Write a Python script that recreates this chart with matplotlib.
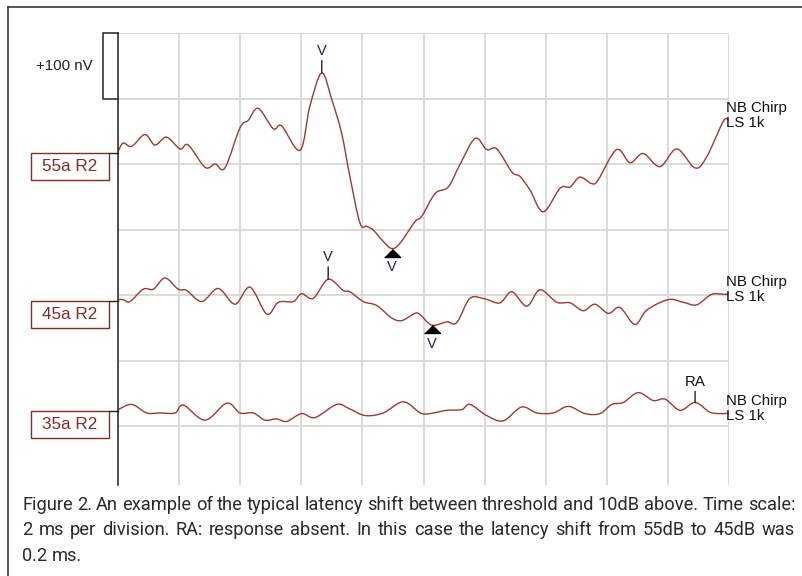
import matplotlib
matplotlib.use('Agg')
import numpy as np
import matplotlib.pyplot as plt
from matplotlib.lines import Line2D
from matplotlib.patches import Rectangle, PathPatch
from matplotlib.path import Path
from matplotlib.transforms import IdentityTransform

# ABR traces: time in ms (2 ms / division), amplitude in nV relative to baseline
t55 = [0.0, 0.17, 0.45, 0.88, 1.21, 1.59, 2.03, 2.30, 2.85, 3.18, 3.50, 3.99, 4.27,
       4.59, 5.08, 5.36, 5.96, 6.28, 6.67, 7.00, 7.32, 7.59, 7.92, 8.14, 8.36, 8.68,
       8.96, 9.23, 9.72, 9.94, 10.38, 10.81, 11.19, 11.69, 12.07, 12.40, 12.89, 13.16,
       13.49, 13.92, 14.47, 14.80, 15.12, 15.51, 15.72, 16.32, 16.76, 17.19, 17.74,
       18.29, 18.89, 19.27, 19.81, 19.98]
v55 = [2, 15, 10, 28, 12, 24, 6, 12, -22, -17, -23, 38, 50,
       68, 37, 41, 4, 71, 122, 81, 30, -36, -107, -112, -118, -135,
       -146, -138, -105, -97, -62, -52, -18, 22, 5, 6, -29, -36,
       -57, -90, -54, -52, -37, -47, -41, 5, -15, -1, -21,
       6, -23, -6, 48, 50]

t45 = [0.0, 0.17, 0.39, 0.83, 1.16, 1.54, 1.97, 2.25, 2.74, 3.28, 3.83, 4.32, 4.87,
       5.25, 5.74, 6.01, 6.39, 6.88, 7.37, 7.59, 8.03, 8.47, 8.96, 9.29, 9.72, 9.89,
       10.27, 10.76, 11.09, 11.52, 12.01, 12.50, 12.89, 13.38, 13.81, 14.36, 14.80,
       15.23, 15.61, 16.05, 16.43, 16.92, 17.31, 18.01, 18.50, 18.94, 19.43, 19.87, 20.0]
v45 = [2, 2, -1, 18, 18, 35, 18, 16, -1, 19, -5, 21, -20,
       -2, -1, 11, 4, 33, 16, 14, -1, -7, -26, -30, -19, -21,
       -37, -32, -33, 4, 3, -3, 14, -8, 17, -2, -3,
       -15, -5, -19, -10, -36, -14, 2, -2, -6, 10, 10, 11]

t35 = [0.0, 0.45, 0.94, 1.37, 1.87, 2.14, 2.85, 3.56, 3.99, 4.43, 4.81, 5.19, 5.52,
       6.01, 6.45, 7.16, 7.59, 8.09, 8.68, 9.34, 9.89, 10.21, 10.76, 11.25, 11.52,
       12.07, 12.61, 13.21, 13.71, 14.25, 14.74, 15.29, 15.78, 16.16, 16.54, 17.03,
       17.52, 17.91, 18.40, 18.89, 19.38, 19.81, 20.0]
v35 = [2, 10, -3, -3, -3, 9, -14, 12, -3, -3, -14, -12, -16,
       -4, -10, 10, 3, -7, -3, 14, -3, -4, 1, 2, 10,
       -7, -15, 6, -3, -3, 7, -4, -4, 10, 13, 28,
       16, 18, 1, 13, -2, -4, -3]

traces = [(t55, v55), (t45, v45), (t35, v35)]
trace_labels = ['55a R2', '45a R2', '35a R2']
stim_label = 'NB Chirp\nLS 1k'
offsets = [417, 191, 23]  # vertical placement of each trace (nV)

# wave V peak / trough latencies (ms) and the response-absent mark
peak_v = [6.67, 6.88]
trough_v = [8.96, 10.27]
ra_mark = 18.89

caption = ["Figure 2. An example of the typical latency shift between threshold and 10dB above. Time scale:",
           "2 ms per division. RA: response absent. In this case the latency shift from 55dB to 45dB was",
           "0.2 ms."]

trace_col = '#9a3b30'
label_col = '#7e2f24'
txt_font = 'Liberation Sans'

fig = plt.figure(figsize=(8.02, 5.76), dpi=100)
W, H = 802, 576
ax = fig.add_axes([118 / W, 1 - 485 / H, (729 - 118) / W, (485 - 33) / H])
ax.set_xlim(0, 20)
ax.set_ylim(-90, 600)
ax.set_xticks(range(0, 21, 2))
ax.set_yticks(range(0, 601, 100))
ax.tick_params(length=0, labelbottom=False, labelleft=False)
ax.grid(True, color='#dadada', lw=1.4)
for s in ['top', 'right', 'bottom']:
    ax.spines[s].set_visible(False)
ax.spines['left'].set_color('#222222')
ax.spines['left'].set_linewidth(1.1)
ax.set_axisbelow(True)

# outer frame
fig.add_artist(Line2D([8 / W, 8 / W], [0, 1 - 7 / H], color='#3a3a3a', lw=1.2))
fig.add_artist(Line2D([8 / W, 1], [1 - 7 / H, 1 - 7 / H], color='#3a3a3a', lw=1.2))

# 100 nV scale bracket
ax.plot([0, -0.49, -0.49, 0], [600, 600, 500, 500], color='#222222', lw=1.1, clip_on=False)
ax.text(-1.77, 550, '+100 nV', ha='center', va='center', fontsize=10.8,
        family=txt_font, color='#222222')


def smooth_path(x, y):
    # Catmull-Rom curve through the read points, as cubic Bezier segments
    p = np.column_stack([x, y]).astype(float)
    verts, codes = [p[0]], [Path.MOVETO]
    n = len(p)
    for i in range(n - 1):
        p0 = p[i - 1] if i > 0 else p[i]
        p3 = p[i + 2] if i + 2 < n else p[i + 1]
        verts += [p[i] + (p[i + 1] - p0) / 6, p[i + 1] - (p3 - p[i]) / 6, p[i + 1]]
        codes += [Path.CURVE4] * 3
    return Path(verts, codes)


tri = [(-1, -1), (1, -1), (0, 0)]

for i, ((t, v), off) in enumerate(zip(traces, offsets)):
    y = [off + a for a in v]
    ax.add_patch(PathPatch(smooth_path(t, y), fill=False, ec=trace_col, lw=1.0,
                           clip_on=False))
    # label box on the left
    ax.add_patch(Rectangle((-2.85, off - 41), 2.56, 41, fill=False, ec=label_col,
                           lw=1.0, clip_on=False))
    ax.plot([-0.29, 0], [off, off], color='#222222', lw=1.0, clip_on=False)
    ax.text(-1.57, off - 20.5, trace_labels[i], ha='center', va='center', fontsize=12.3,
            family=txt_font, color=label_col)
    # stimulus label on the right
    ax.text(19.9, y[-1] + 7, stim_label, ha='left', va='center', fontsize=10.8,
            family=txt_font, color='#111111', linespacing=1.08, clip_on=False)

    if i < 2:
        k = t.index(peak_v[i])
        ax.annotate('V', xy=(t[k], y[k]), xytext=(0, 11), textcoords='offset points',
                    ha='center', va='bottom', fontsize=10.5, family=txt_font,
                    color='#1a2450',
                    arrowprops=dict(arrowstyle='-', color='#222222', lw=1.0,
                                    shrinkA=0, shrinkB=0))
        k = t.index(trough_v[i])
        ax.plot(t[k], y[k], marker=tri, ms=11.5, color='black', clip_on=False)
        ax.annotate('V', xy=(t[k], y[k]), xytext=(0, -8.5), textcoords='offset points',
                    ha='center', va='top', fontsize=10.5, family=txt_font,
                    color='#1a2450')
    else:
        k = t.index(ra_mark)
        ax.annotate('RA', xy=(t[k], y[k]), xytext=(0, 10), textcoords='offset points',
                    ha='center', va='bottom', fontsize=10.8, family=txt_font,
                    color='#111111',
                    arrowprops=dict(arrowstyle='-', color='#222222', lw=1.0,
                                    shrinkA=0, shrinkB=0))

# caption, justified like the journal layout
renderer = fig.canvas.get_renderer()
cap_base = [510, 535, 561]
x0, x1 = 22, 795


def text_width(s, size):
    tmp = fig.text(0, 0, s, fontsize=size, family='Roboto')
    w = tmp.get_window_extent(renderer).width
    tmp.remove()
    return w


cap_size = 12.0 * (x1 - x0) / text_width(caption[0], 12.0)
space_w = text_width('a a', cap_size) - text_width('aa', cap_size)


def place_line(text, ypx, justify):
    words = text.split(' ')
    widths = [text_width(w, cap_size) for w in words]
    if justify and len(words) > 1:
        gap = (x1 - x0 - sum(widths)) / (len(words) - 1)
    else:
        gap = space_w
    x = x0
    for w, wd in zip(words, widths):
        fig.text(x, H - ypx, w, transform=IdentityTransform(), fontsize=cap_size,
                 family='Roboto', color='#2a2a2a', va='baseline', ha='left')
        x += wd + gap


for j, (line, yy) in enumerate(zip(caption, cap_base)):
    place_line(line, yy, j < 2)

fig.savefig('out.png', dpi=100)
